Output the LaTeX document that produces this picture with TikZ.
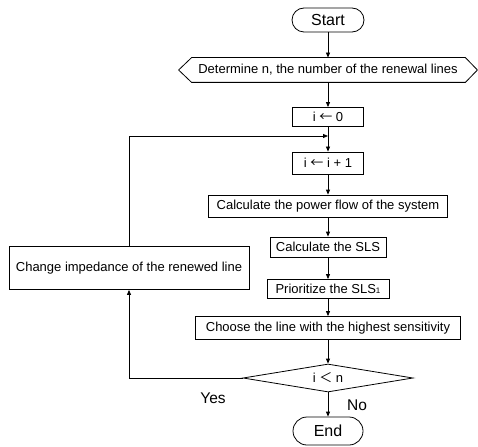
\documentclass[tikz,border=0pt]{standalone}
\usepackage{fontspec}
\setmainfont{Liberation Sans}
\newfontfamily\cjk{Noto Sans CJK JP}
\usetikzlibrary{arrows.meta,shapes.geometric}
\begin{document}
\begin{tikzpicture}[x=1pt,y=-1pt,
  lw/.style={line width=0.8pt},
  box/.style={lw,draw,rectangle,inner sep=0pt,font=\fontsize{13}{15}\selectfont},
  term/.style={lw,draw,rectangle,inner sep=0pt,font=\fontsize{16}{18}\selectfont},
  lbl/.style={inner sep=0pt,font=\fontsize{15.5}{17}\selectfont},
  arr/.style={lw,-{Triangle[length=5pt,width=4pt]}},
  plain/.style={lw}
]
\useasboundingbox (0,0) rectangle (478,446);
\fill[white] (0,0) rectangle (478,446);

\node[term,rounded corners=12pt,minimum width=72pt,minimum height=24pt] (start) at (328,20) {Start};
\node[box,draw=none,minimum width=298pt,minimum height=24pt] (det) at (328,70) {Determine n, the number of the renewal lines};
\draw[lw] (det.west) -- ([xshift=13pt]det.north west) -- ([xshift=-12pt]det.north east) -- (det.east) -- ([xshift=-12pt]det.south east) -- ([xshift=13pt]det.south west) -- cycle;
\node[box,minimum width=71pt,minimum height=19pt] (init) at (328,117) {i {\cjk ←} 0};
\coordinate (merge) at (328,136);
\node[box,minimum width=71pt,minimum height=22pt] (inc) at (328,163) {i {\cjk ←} i + 1};
\node[box,minimum width=239pt,minimum height=22pt] (pf) at (328,206) {Calculate the power flow of the system};
\node[box,minimum width=116pt,minimum height=20pt] (sls) at (328,247) {Calculate the SLS};
\node[box,minimum width=122pt,minimum height=19pt] (prio) at (328,289) {Prioritize the SLS{\fontsize{8}{9}\selectfont 1}};
\node[box,minimum width=265pt,minimum height=23pt] (choose) at (328,328) {Choose the line with the highest sensitivity};
\node[box,diamond,aspect=6,minimum width=170pt,minimum height=28pt] (dec) at (328,378) {i {\cjk ＜} n};
\node[term,rounded corners=14pt,minimum width=70pt,minimum height=28pt] (end) at (328,431) {End};
\node[box,minimum width=240pt,minimum height=43pt] (chg) at (129,268) {Change impedance of the renewed line};
\node[lbl] (yes) at (213,398) {Yes};
\node[lbl] (no) at (357,405) {No};

\draw[arr] (start) -- (det.north);
\draw[arr] (det.south) -- (init);
\draw[arr] (init) -- (inc);
\draw[arr] (inc) -- (pf);
\draw[arr] (pf) -- (sls);
\draw[arr] (sls) -- (prio);
\draw[arr] (prio) -- (choose);
\draw[arr] (choose) -- (dec);
\draw[arr] (dec) -- (end);
\draw[arr] (dec.west) -| (chg.south);
\draw[arr] (chg.north) |- (merge);
\end{tikzpicture}
\end{document}
